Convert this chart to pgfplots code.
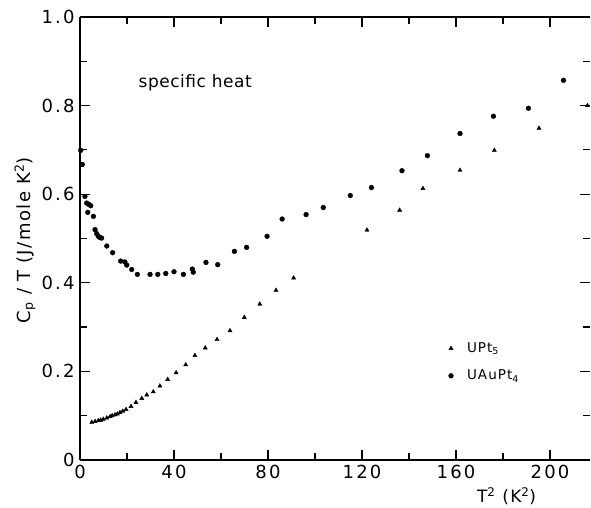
\documentclass[border=0pt]{standalone}
\usepackage{fontspec}
\setmainfont{DejaVu Sans}[LetterSpace=8]
\usepackage{pgfplots}
\pgfplotsset{compat=1.18}
\pgfplotstableread{
x y
0.3 0.699
0.98 0.667
2.1 0.595
2.85 0.580
3.8 0.577
4.55 0.574
3.3 0.559
5.7 0.550
6.4 0.520
7.1 0.511
7.8 0.505
8.5 0.502
9.2 0.501
11.4 0.483
13.9 0.468
17.3 0.449
19.1 0.447
19.9 0.440
22.0 0.430
24.4 0.419
29.8 0.419
33.1 0.419
36.5 0.421
40.0 0.425
44.0 0.419
47.8 0.431
48.2 0.424
53.6 0.446
58.6 0.441
65.7 0.471
70.9 0.480
79.6 0.505
86.0 0.544
96.2 0.554
103.5 0.570
115.0 0.597
124.0 0.615
137.0 0.653
147.8 0.687
161.7 0.737
175.9 0.776
190.8 0.794
205.7 0.857
}\uaupt
\pgfplotstableread{
x y
5.0 0.085
6.4 0.087
7.8 0.089
8.8 0.090
9.9 0.092
11.4 0.095
12.8 0.098
13.7 0.100
14.9 0.102
15.9 0.104
17.0 0.107
18.2 0.110
19.6 0.114
21.7 0.121
23.8 0.130
26.3 0.139
28.4 0.147
31.2 0.154
34.0 0.167
37.3 0.182
40.9 0.197
45.0 0.215
48.9 0.236
53.3 0.253
58.3 0.272
63.8 0.292
69.9 0.322
76.5 0.352
83.4 0.383
90.9 0.411
122.1 0.519
136.0 0.564
145.9 0.613
161.7 0.654
176.3 0.699
195.3 0.749
215.9 0.800
}\upt
\begin{document}
\begin{tikzpicture}[x=1pt,y=1pt]
\begin{axis}[
  at={(80pt,48pt)}, anchor=south west,
  scale only axis, width=510pt, height=443pt,
  xmin=0, xmax=217, ymin=0, ymax=1.0,
  clip=false,
  separate axis lines,
  x axis line style={line width=1.3pt},
  y axis line style={draw=none},
  xtick={0,40,80,120,160,200},
  xticklabels={0,40,80,120,160,200},
  ytick={0,0.2,0.4,0.6,0.8,1.0},
  yticklabels={0,0.2,0.4,0.6,0.8,1.0},
  minor x tick num=1, minor y tick num=1,
  tick align=inside,
  xtick pos=both, ytick pos=both,
  major tick length=10pt, minor tick length=7pt,
  every tick/.style={black, line width=1.2pt},
  tick label style={font=\fontsize{18}{18}\selectfont\addfontfeatures{LetterSpace=12}},
  xticklabel style={yshift=-2pt},
  yticklabel style={xshift=-2pt},
  legend image code/.code={\path[draw=none] (0pt,0pt) -- (18pt,0pt); \draw[#1] plot coordinates {(4pt,0pt)};},
  legend style={at={(axis cs:154.8,0.221)}, anchor=west, draw=none, fill=none,
    font=\fontsize{13.5}{13.5}\selectfont, row sep=12pt},
  legend cell align=left,
]
\addplot[only marks, mark=triangle*, mark size=2.4pt, black] table[x=x,y=y] {\upt};
\addlegendentry{UPt\textsubscript{5}}
\addplot[only marks, mark=*, mark size=2.4pt, black] table[x=x,y=y] {\uaupt};
\addlegendentry{UAuPt\textsubscript{4}}
\draw[line width=1.3pt] (rel axis cs:0,0) -- (rel axis cs:0,1);
\node[font=\fontsize{17}{17}\selectfont\addfontfeatures{LetterSpace=3}] at (axis cs:49,0.852) {specific heat};
\node[font=\fontsize{17}{17}\selectfont] at (axis cs:181.5,-0.082) {T\textsuperscript{2} (K\textsuperscript{2})};
\node[rotate=90, font=\fontsize{18}{18}\selectfont] at (axis cs:-23.4,0.496) {C\textsubscript{p} / T (J/mole K\textsuperscript{2})};
\end{axis}
\pgfresetboundingbox
\path[use as bounding box] (0,0) rectangle (591,508);
\end{tikzpicture}
\end{document}
